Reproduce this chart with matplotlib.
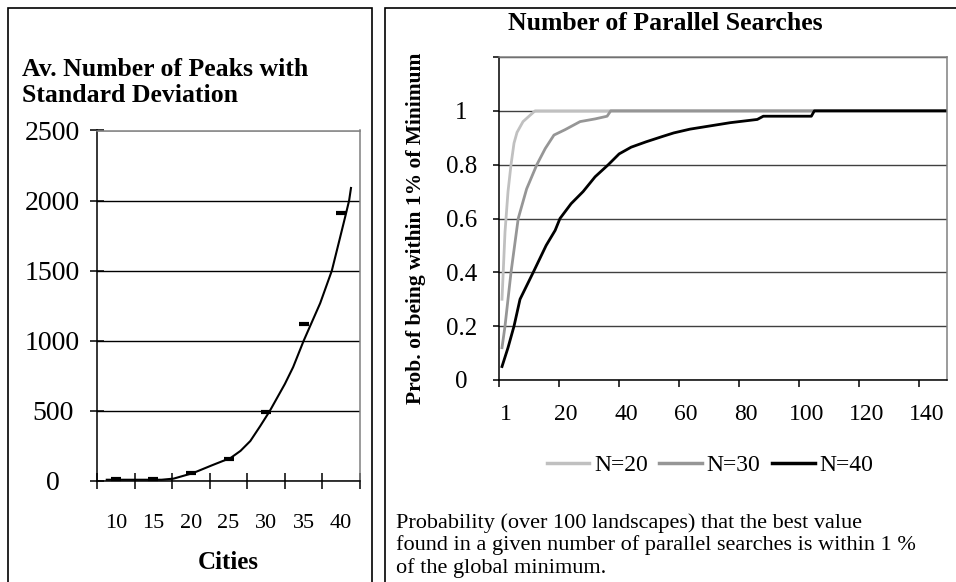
import matplotlib
matplotlib.use('Agg')
import matplotlib.pyplot as plt
from matplotlib.patches import Rectangle
from matplotlib.lines import Line2D
from matplotlib.ticker import FixedLocator, FixedFormatter

plt.rcParams['font.family'] = ['Liberation Serif', 'DejaVu Serif']

# left chart: average number of peaks per number of cities
cities = [10, 15, 20, 25, 30, 35, 40]
peaks_mean = [12, 12, 55, 160, 490, 1120, 1910]
# fitted trend line
trend_cities = [8.8, 16.1, 17.7, 20.3, 22.8, 25.3, 26.6, 27.9, 29.2, 30.5, 32.5, 33.6,
                35.0, 37.2, 38.75, 39.85, 40.6, 41.05, 41.3]
trend_peaks = [9, 9, 17, 57, 112, 165, 215, 285, 390, 500, 692, 812,
               1000, 1268, 1500, 1737, 1900, 2000, 2090]
peaks_yticks = [0, 500, 1000, 1500, 2000, 2500]

# right chart: prob. of being within 1% of the minimum
n20_x = [1, 2, 3, 4, 5, 6, 7, 8, 9, 10, 11, 12, 149]
n20_y = [0.30, 0.55, 0.70, 0.80, 0.88, 0.92, 0.94, 0.96, 0.97, 0.98, 0.99, 1.0, 1.0]
n30_x = [1, 2, 4, 6.4, 9.2, 12.6, 15.4, 18.3, 22, 27, 32, 36, 37.2, 149]
n30_y = [0.12, 0.20, 0.40, 0.60, 0.71, 0.80, 0.86, 0.91, 0.93, 0.96, 0.97, 0.98, 1.0, 1.0]
n40_x = [1, 3, 5, 7, 11.4, 15.7, 18.7, 20.3, 24, 28, 32, 36.4, 40, 44, 49, 54.5, 58.2,
         63.6, 70.3, 77, 86, 88, 104, 105, 149]
n40_y = [0.05, 0.12, 0.20, 0.30, 0.40, 0.50, 0.556, 0.60, 0.655, 0.70, 0.755, 0.80, 0.84,
         0.865, 0.885, 0.905, 0.918, 0.932, 0.944, 0.956, 0.968, 0.98, 0.98, 1.0, 1.0]
series_labels = ['N=20', 'N=30', 'N=40']
series_colors = ['#c0c0c0', '#969696', '#000000']
search_xticks = [0, 20, 40, 60, 80, 100, 120, 140]
search_xlabels = ['1', '20', '40', '60', '80', '100', '120', '140']
prob_yticks = [0, 0.2, 0.4, 0.6, 0.8, 1.0, 1.2]
prob_ylabels = ['0', '0.2', '0.4', '0.6', '0.8', '1', '']

W, H = 956, 582


def fx(x):
    return x / W


def fy(y):
    return 1 - y / H


def style_frame(ax):
    for s in ['left', 'bottom']:
        ax.spines[s].set_color('black')
        ax.spines[s].set_linewidth(1.1)
    for s in ['top', 'right']:
        ax.spines[s].set_color('#808080')
        ax.spines[s].set_linewidth(1.1)
    ax.set_axisbelow(True)


fig = plt.figure(figsize=(W / 100, H / 100), dpi=100)

# panel frames
fig.patches.append(Rectangle((fx(8), -0.1), fx(372 - 8), fy(8) + 0.1, transform=fig.transFigure,
                             fill=False, ec='black', lw=1.2))
fig.patches.append(Rectangle((fx(385), -0.1), 1.0, fy(8) + 0.1, transform=fig.transFigure,
                             fill=False, ec='black', lw=1.2))

# ---- left chart
ax1 = fig.add_axes([fx(97), fy(481), fx(360 - 97), (481 - 130.5) / H])
ax1.plot(trend_cities, trend_peaks, color='black', lw=1.5)
ax1.plot(cities, peaks_mean, ls='none', marker='_', ms=7, mew=3, color='black')
ax1.set_xlim(7.5, 42.5)
ax1.set_ylim(0, 2500)
ax1.set_yticks(peaks_yticks)
ax1.yaxis.grid(True, color='black', lw=1)
ax1.tick_params(axis='y', direction='inout', length=10, width=1.1, pad=27, labelsize=20)
for lab in ax1.get_yticklabels():
    lab.set_horizontalalignment('center')
ax1.xaxis.set_major_locator(FixedLocator([c - 2.5 for c in cities] + [42.5]))
ax1.xaxis.set_major_formatter(FixedFormatter([]))
ax1.xaxis.set_minor_locator(FixedLocator(cities))
ax1.xaxis.set_minor_formatter(FixedFormatter([str(c) for c in cities]))
ax1.tick_params(axis='x', which='major', direction='inout', length=12, width=1.1)
ax1.tick_params(axis='x', which='minor', length=0, pad=24, labelsize=16)
ax1.set_xlabel('Cities', fontsize=18, fontweight='bold', labelpad=13)
style_frame(ax1)

fig.text(fx(22), fy(69), 'Av. Number of Peaks with', fontsize=18.5, fontweight='bold',
         ha='left', va='center')
fig.text(fx(22), fy(95), 'Standard Deviation', fontsize=18.5, fontweight='bold',
         ha='left', va='center')

# ---- right chart
ax2 = fig.add_axes([fx(499), fy(380), fx(946.5 - 499), (380 - 57) / H])
for xs, ys, lab, col in zip([n20_x, n30_x, n40_x], [n20_y, n30_y, n40_y],
                            series_labels, series_colors):
    ax2.plot(xs, ys, color=col, lw=2, label=lab)
ax2.set_xlim(0, 149)
ax2.set_ylim(0, 1.2)
ax2.set_yticks(prob_yticks)
ax2.set_yticklabels(prob_ylabels)
ax2.yaxis.grid(True, color='#404040', lw=1)
ax2.tick_params(axis='y', direction='out', length=4, width=1.1, pad=23, labelsize=18)
for lab in ax2.get_yticklabels():
    lab.set_horizontalalignment('center')
ax2.xaxis.set_major_locator(FixedLocator(search_xticks))
ax2.xaxis.set_major_formatter(FixedFormatter([]))
ax2.xaxis.set_minor_locator(FixedLocator([t + 2.3 for t in search_xticks]))
ax2.xaxis.set_minor_formatter(FixedFormatter(search_xlabels))
ax2.tick_params(axis='x', which='major', direction='out', length=5, width=1.1)
ax2.tick_params(axis='x', which='minor', length=0, pad=17, labelsize=17)
style_frame(ax2)

handles = [Line2D([], [], color=c, lw=2.5) for c in series_colors]
ax2.legend(handles, series_labels, loc='center', bbox_to_anchor=(fx(710), fy(465)),
           bbox_transform=fig.transFigure, ncol=3, frameon=False, fontsize=17,
           handlelength=1.8, handletextpad=0.2, columnspacing=0.5,
           borderpad=0, borderaxespad=0)

fig.text(fx(665), fy(23), 'Number of Parallel Searches', fontsize=18.5, fontweight='bold',
         ha='center', va='center')
fig.text(fx(416), fy(228), 'Prob. of being within 1% of Minimum', fontsize=15.5,
         fontweight='bold', rotation=90, ha='center', va='center')

caption = ['Probability (over 100 landscapes) that the best value',
           'found in a given number of parallel searches is within 1 %',
           'of the global minimum.']
for i, line in enumerate(caption):
    fig.text(fx(396), fy(523 + 22.5 * i), line, fontsize=16, ha='left', va='center')

fig.savefig('out.png', dpi=100)
